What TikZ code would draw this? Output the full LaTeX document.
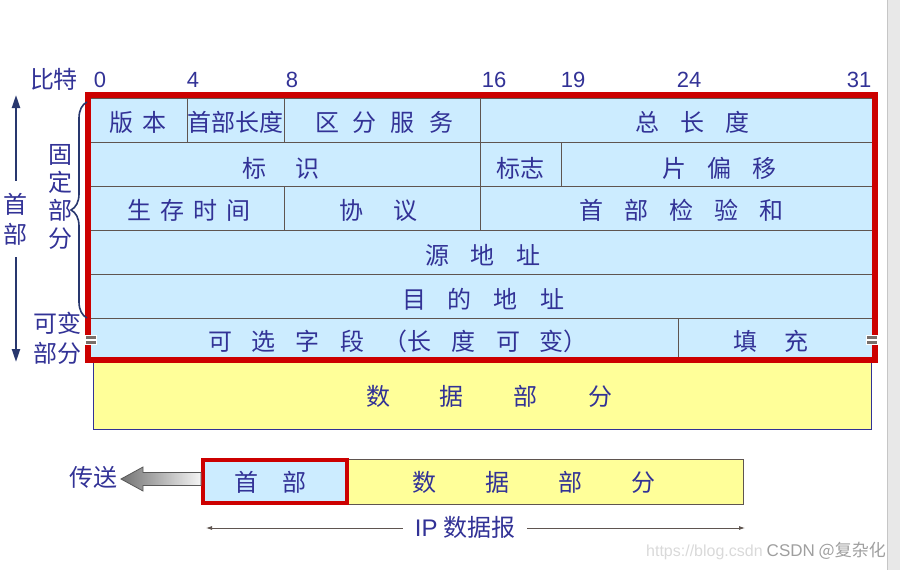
\documentclass[tikz,border=0pt]{standalone}
\usepackage{fontspec}
\setmainfont{Noto Sans CJK SC}
\newfontfamily\arialf{Liberation Sans}
\usetikzlibrary{decorations.pathreplacing,arrows.meta}
\definecolor{txt}{RGB}{50,50,150}
\definecolor{cellblue}{RGB}{204,236,255}
\definecolor{cellyellow}{RGB}{255,255,153}
\definecolor{framered}{RGB}{204,0,0}
\definecolor{gridc}{RGB}{95,85,80}
\definecolor{navy}{RGB}{40,55,110}
\ExplSyntaxOn
\NewDocumentCommand\spaced{mm}{
  \seq_clear:N \l_tmpa_seq
  \tl_map_inline:nn {#2} { \seq_put_right:Nn \l_tmpa_seq {##1} }
  \seq_use:Nn \l_tmpa_seq { \hspace{#1} }
}
\ExplSyntaxOff
\tikzset{
  lbl/.style={text=txt, font=\fontsize{24}{27}\selectfont, inner sep=0pt},
  num/.style={text=txt, font=\arialf\fontsize{22}{24}\selectfont, inner sep=0pt},
  gridline/.style={draw=gridc, line width=1pt},
  tickbar/.style={fill=gridc!85},
}
\begin{document}
\begin{tikzpicture}[x=1pt,y=-1pt]
\useasboundingbox (0,0) rectangle (900,570);
% right gray strip
\fill[gray!18] (887,0) rectangle (900,570);
\draw[gray!45, line width=1pt] (887,0) -- (887,570);

% header scale
\node[lbl] (bit) at (54,79) {比特};
\node[num] (n0) at (100,80) {0};
\node[num] (n4) at (193,80) {4};
\node[num] (n8) at (292,80) {8};
\node[num] (n16) at (494,80) {16};
\node[num] (n19) at (573,80) {19};
\node[num] (n24) at (689,80) {24};
\node[num] (n31) at (859,80) {31};

% data block under header
\draw[draw=txt, fill=cellyellow, line width=0.8pt] (93,360) rectangle (871,429);
\node[lbl] (data) at (489,396) {\spaced{50pt}{数据部分}};

% header table
\fill[cellblue] (91,98) rectangle (872,357);
\foreach \y in {142,186,230,274,318} \draw[gridline] (91,\y) -- (872,\y);
\draw[gridline] (187,98) -- (187,142);
\draw[gridline] (284,98) -- (284,142);
\draw[gridline] (480,98) -- (480,142);
\draw[gridline] (480,142) -- (480,186);
\draw[gridline] (561,142) -- (561,186);
\draw[gridline] (284,186) -- (284,230);
\draw[gridline] (480,186) -- (480,230);
\draw[gridline] (678,318) -- (678,357);
\draw[gridline, line width=2pt] (91,98) -- (872,98);

\node[lbl] (ver) at (138,122) {\spaced{10pt}{版本}};
\node[lbl] (ihl) at (235.5,122) {首部长度};
\node[lbl] (ds) at (384,122) {\spaced{14pt}{区分服务}};
\node[lbl] (tl) at (692,122) {\spaced{21pt}{总长度}};
\node[lbl] (id) at (281,168) {\spaced{29pt}{标识}};
\node[lbl] (fl) at (520,168) {标志};
\node[lbl] (fo) at (719,168) {\spaced{21pt}{片偏移}};
\node[lbl] (ttl) at (189,210) {\spaced{9pt}{生存时间}};
\node[lbl] (proto) at (378,210) {\spaced{30pt}{协议}};
\node[lbl] (cks) at (681,210) {\spaced{21pt}{首部检验和}};
\node[lbl] (src) at (483,255) {\spaced{22pt}{源地址}};
\node[lbl] (dst) at (483,299) {\spaced{22pt}{目的地址}};
\node[lbl] (opt) at (398,341) {\spaced{20pt}{可选字段{（长}度可{变）}}};
\node[lbl] (pad) at (771,341) {\spaced{27pt}{填充}};

% red frame
\draw[framered, line width=6pt] (88,95) rectangle (874.5,360);
% small marks on frame sides
\foreach \x in {91,872} {
  \fill[white] (\x-6,335) rectangle (\x+6,345);
  \fill[tickbar] (\x-5,336) rectangle (\x+5,338.5);
  \fill[tickbar] (\x-5,341) rectangle (\x+5,343.5);
}

% left annotations
\node[lbl, align=center, font=\fontsize{24}{30}\selectfont, inner ysep=12pt] (hdr) at (16,219) {首\\部};
\coordinate (htop) at (16,95);
\coordinate (hbot) at (16,362);
\draw[navy, line width=2.2pt, -{Triangle[length=13pt,width=8pt]}] (hdr.north) -- (htop);
\draw[navy, line width=2.2pt, -{Triangle[length=13pt,width=8pt]}] (hdr.south) -- (hbot);

\node[lbl, align=center, font=\fontsize{24}{28}\selectfont] (fixed) at (60,197) {固\\定\\部\\分};
\coordinate (bt) at (87,102);
\coordinate (bb) at (87,318);
\draw[navy, line width=1.6pt, decorate, decoration={brace, amplitude=16pt}] (bb) -- (bt);
\node[lbl, align=center, font=\fontsize{24}{30}\selectfont] (var) at (57,338) {可变\\部分};

% bottom datagram
\fill[cellblue] (202,459) rectangle (347,503);
\draw[draw=gridc, fill=cellyellow, line width=0.8pt] (347,459) rectangle (743,504);
\draw[framered, line width=4pt] (202.5,459.5) rectangle (346.5,502.5);
\node[lbl] (hd2) at (270,482) {\spaced{24pt}{首部}};
\node[lbl] (dt2) at (534,482) {\spaced{49pt}{数据部分}};

\node[lbl] (send) at (93,477) {传送};
\shade[left color=gray!90!black, right color=gray!8, draw=gray!70!black, line width=0.8pt]
  (121,479) -- (143,467) -- (143,472.5) -- (201,472.5) -- (201,485.5) -- (143,485.5) -- (143,491) -- cycle;

\node[lbl, inner xsep=12pt] (ip) at (465,527) {{\arialf IP} 数据报};
\coordinate (ipl) at (206,528);
\coordinate (ipr) at (745,528);
\draw[gridc, line width=0.8pt, -{Latex[length=6pt,width=4pt]}] (ip.west |- ipl) -- (ipl);
\draw[gridc, line width=0.8pt, -{Latex[length=6pt,width=4pt]}] (ip.east |- ipr) -- (ipr);

% watermark
\node[anchor=west, text=gray!30, font=\arialf\fontsize{16}{18}\selectfont, inner sep=0pt] (url) at (646,552) {https://blog.csdn};
\node[anchor=east, text=gray!75, font=\fontsize{17}{19}\selectfont, inner sep=0pt] (wm) at (886,551) {{\arialf CSDN} @复杂化};
\end{tikzpicture}
\end{document}
